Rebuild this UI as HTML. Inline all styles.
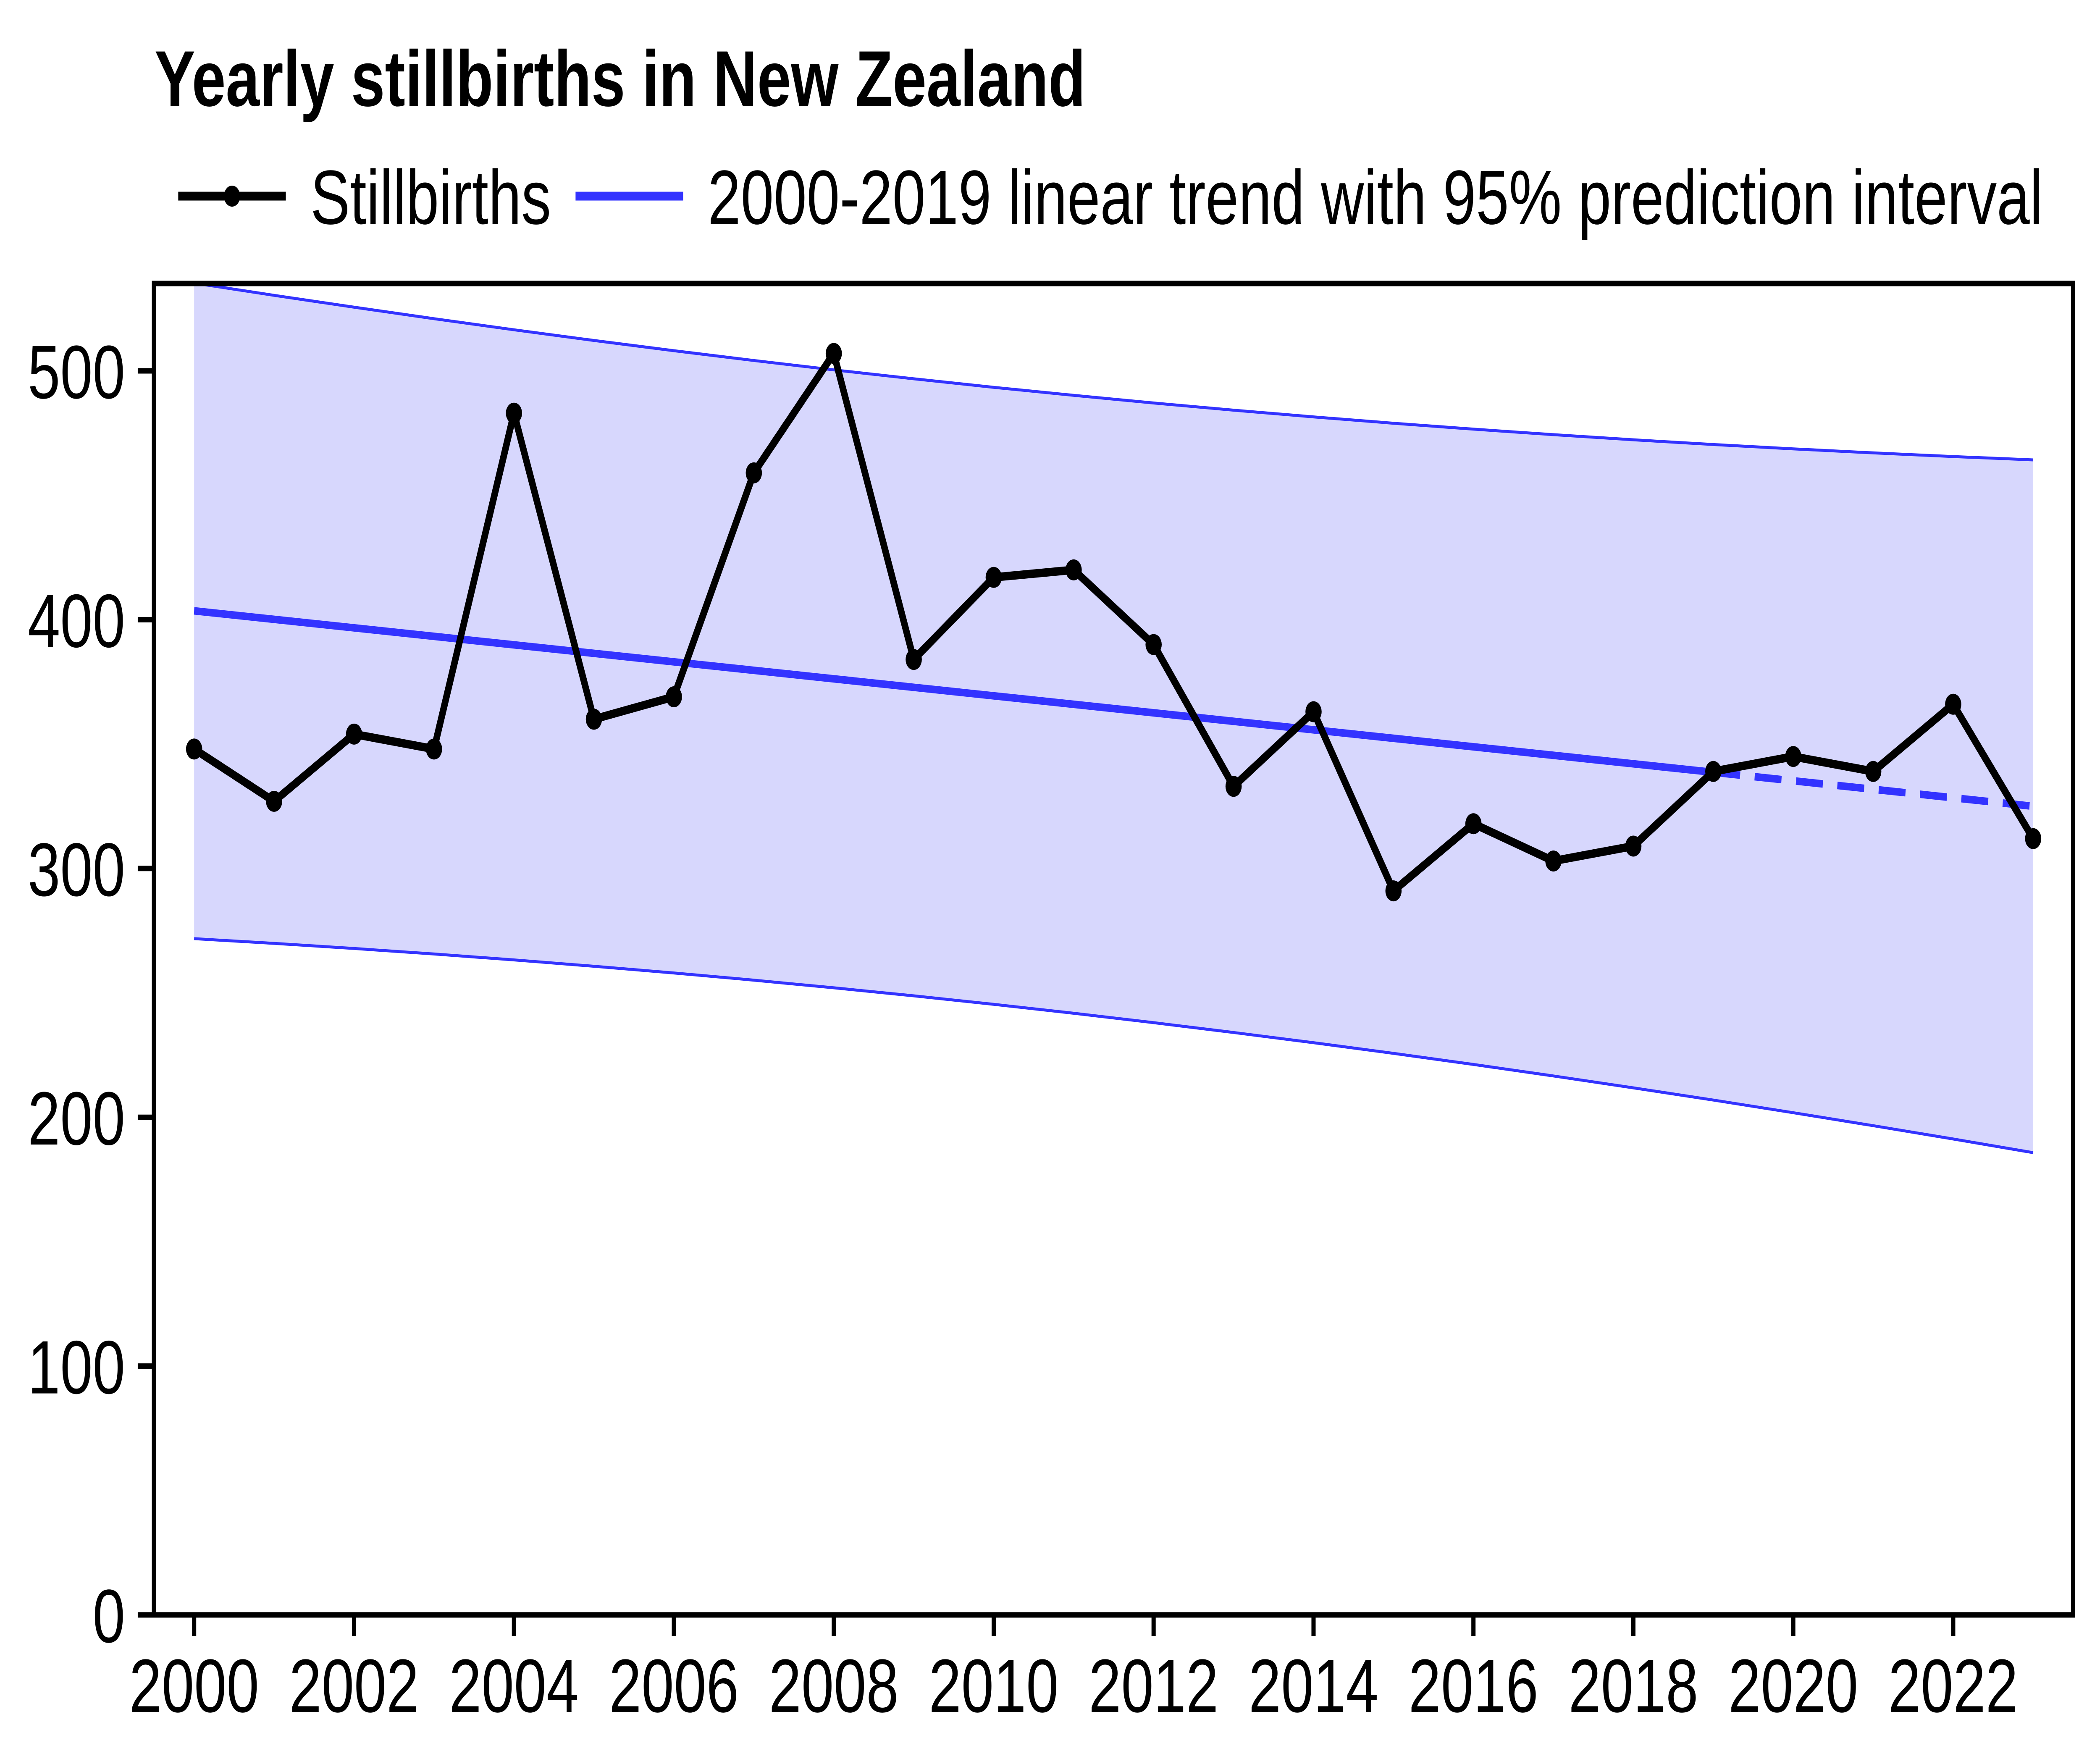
<!DOCTYPE html>
<html>
<head>
<meta charset="utf-8">
<style>
html,body{margin:0;padding:0;background:#fff;width:100%;height:100%;overflow:hidden;}
svg{display:block;width:100vw;height:100vh;}
text{font-family:"Liberation Sans","DejaVu Sans",sans-serif;fill:#000;}
</style>
</head>
<body>
<svg viewBox="0 0 6480 4200" preserveAspectRatio="none" xmlns="http://www.w3.org/2000/svg">
<rect x="0" y="0" width="6480" height="4200" fill="#ffffff"/>

<!-- Title -->
<text x="477" y="252" font-size="188" font-weight="bold">Yearly stillbirths in New Zealand</text>

<!-- Legend -->
<line x1="550" y1="467" x2="882" y2="467" stroke="#000" stroke-width="21"/>
<circle cx="716" cy="467" r="25" fill="#000"/>
<text x="958" y="533" font-size="183">Stillbirths</text>
<line x1="1776" y1="467" x2="2108" y2="467" stroke="#3333FF" stroke-width="21"/>
<text x="2184" y="533" font-size="183">2000-2019 linear trend with 95% prediction interval</text>

<!-- Prediction band fill -->
<polygon fill="#D7D7FD" points="599,674.0 845.7,703.2 1092.5,731.4 1339.2,758.8 1585.9,785.2 1832.6,810.6 2079.4,835.0 2326.1,858.3 2572.8,880.7 2819.5,901.9 3066.3,922.2 3313.0,941.3 3559.7,959.5 3806.5,976.6 4053.2,992.6 4299.9,1007.7 4546.6,1021.8 4793.4,1034.9 5040.1,1047.1 5286.8,1058.4 5533.5,1068.7 5780.3,1078.3 6027.0,1087.0 6273.7,1095.0 6273.7,2744.4 6027.0,2711.9 5780.3,2680.2 5533.5,2649.3 5286.8,2619.2 5040.1,2590.1 4793.4,2561.8 4546.6,2534.4 4299.9,2508.0 4053.2,2482.6 3806.5,2458.3 3559.7,2434.9 3313.0,2412.5 3066.3,2391.3 2819.5,2371.0 2572.8,2351.9 2326.1,2333.7 2079.4,2316.6 1832.6,2300.6 1585.9,2285.5 1339.2,2271.4 1092.5,2258.3 845.7,2246.1 599,2234.9"/>

<!-- Band edges -->
<polyline fill="none" stroke="#3333FF" stroke-width="7" points="599,674.0 845.7,703.2 1092.5,731.4 1339.2,758.8 1585.9,785.2 1832.6,810.6 2079.4,835.0 2326.1,858.3 2572.8,880.7 2819.5,901.9 3066.3,922.2 3313.0,941.3 3559.7,959.5 3806.5,976.6 4053.2,992.6 4299.9,1007.7 4546.6,1021.8 4793.4,1034.9 5040.1,1047.1 5286.8,1058.4 5533.5,1068.7 5780.3,1078.3 6027.0,1087.0 6273.7,1095.0"/>
<polyline fill="none" stroke="#3333FF" stroke-width="7" points="599,2234.9 845.7,2246.1 1092.5,2258.3 1339.2,2271.4 1585.9,2285.5 1832.6,2300.6 2079.4,2316.6 2326.1,2333.7 2572.8,2351.9 2819.5,2371.0 3066.3,2391.3 3313.0,2412.5 3559.7,2434.9 3806.5,2458.3 4053.2,2482.6 4299.9,2508.0 4546.6,2534.4 4793.4,2561.8 5040.1,2590.1 5286.8,2619.2 5533.5,2649.3 5780.3,2680.2 6027.0,2711.9 6273.7,2744.4"/>

<!-- Trend line -->
<line x1="599" y1="1454.4" x2="5286.8" y2="1838.8" stroke="#3333FF" stroke-width="18"/>
<line x1="5286.8" y1="1838.8" x2="6273.7" y2="1919.7" stroke="#3333FF" stroke-width="18" stroke-dasharray="83 45"/>

<!-- Data line -->
<polyline fill="none" stroke="#000" stroke-width="20" stroke-linejoin="round" points="599,1783.4 845.7,1907.9 1092.5,1747.9 1339.2,1783.4 1585.9,983.7 1832.6,1712.4 2079.4,1659.0 2326.1,1125.9 2572.8,841.5 2819.5,1570.2 3066.3,1374.7 3313.0,1356.9 3559.7,1534.6 3806.5,1872.3 4053.2,1694.6 4299.9,2121.1 4546.6,1961.2 4793.4,2050.0 5040.1,2014.5 5286.8,1836.8 5533.5,1801.2 5780.3,1836.8 6027.0,1676.8 6273.7,1996.7"/>
<g fill="#000">
<circle cx="599" cy="1783.4" r="25"/>
<circle cx="845.7" cy="1907.9" r="25"/>
<circle cx="1092.5" cy="1747.9" r="25"/>
<circle cx="1339.2" cy="1783.4" r="25"/>
<circle cx="1585.9" cy="983.7" r="25"/>
<circle cx="1832.6" cy="1712.4" r="25"/>
<circle cx="2079.4" cy="1659.0" r="25"/>
<circle cx="2326.1" cy="1125.9" r="25"/>
<circle cx="2572.8" cy="841.5" r="25"/>
<circle cx="2819.5" cy="1570.2" r="25"/>
<circle cx="3066.3" cy="1374.7" r="25"/>
<circle cx="3313.0" cy="1356.9" r="25"/>
<circle cx="3559.7" cy="1534.6" r="25"/>
<circle cx="3806.5" cy="1872.3" r="25"/>
<circle cx="4053.2" cy="1694.6" r="25"/>
<circle cx="4299.9" cy="2121.1" r="25"/>
<circle cx="4546.6" cy="1961.2" r="25"/>
<circle cx="4793.4" cy="2050.0" r="25"/>
<circle cx="5040.1" cy="2014.5" r="25"/>
<circle cx="5286.8" cy="1836.8" r="25"/>
<circle cx="5533.5" cy="1801.2" r="25"/>
<circle cx="5780.3" cy="1836.8" r="25"/>
<circle cx="6027.0" cy="1676.8" r="25"/>
<circle cx="6273.7" cy="1996.7" r="25"/>
</g>

<!-- Frame -->
<rect x="475" y="675" width="5922" height="3170" fill="none" stroke="#000" stroke-width="13"/>

<!-- Y ticks -->
<g stroke="#000" stroke-width="13">
<line x1="425" y1="3845" x2="475" y2="3845"/>
<line x1="425" y1="3252.6" x2="475" y2="3252.6"/>
<line x1="425" y1="2660.2" x2="475" y2="2660.2"/>
<line x1="425" y1="2067.8" x2="475" y2="2067.8"/>
<line x1="425" y1="1475.4" x2="475" y2="1475.4"/>
<line x1="425" y1="883" x2="475" y2="883"/>
</g>
<g font-size="180" text-anchor="end">
<text x="386" y="3910">0</text>
<text x="386" y="3317.6">100</text>
<text x="386" y="2725.2">200</text>
<text x="386" y="2132.8">300</text>
<text x="386" y="1540.4">400</text>
<text x="386" y="948">500</text>
</g>

<!-- X ticks -->
<g stroke="#000" stroke-width="13">
<line x1="599" y1="3845" x2="599" y2="3895"/>
<line x1="1092.5" y1="3845" x2="1092.5" y2="3895"/>
<line x1="1585.9" y1="3845" x2="1585.9" y2="3895"/>
<line x1="2079.4" y1="3845" x2="2079.4" y2="3895"/>
<line x1="2572.8" y1="3845" x2="2572.8" y2="3895"/>
<line x1="3066.3" y1="3845" x2="3066.3" y2="3895"/>
<line x1="3559.7" y1="3845" x2="3559.7" y2="3895"/>
<line x1="4053.2" y1="3845" x2="4053.2" y2="3895"/>
<line x1="4546.6" y1="3845" x2="4546.6" y2="3895"/>
<line x1="5040.1" y1="3845" x2="5040.1" y2="3895"/>
<line x1="5533.5" y1="3845" x2="5533.5" y2="3895"/>
<line x1="6027.0" y1="3845" x2="6027.0" y2="3895"/>
</g>
<g font-size="180" text-anchor="middle">
<text x="599" y="4076">2000</text>
<text x="1092.5" y="4076">2002</text>
<text x="1585.9" y="4076">2004</text>
<text x="2079.4" y="4076">2006</text>
<text x="2572.8" y="4076">2008</text>
<text x="3066.3" y="4076">2010</text>
<text x="3559.7" y="4076">2012</text>
<text x="4053.2" y="4076">2014</text>
<text x="4546.6" y="4076">2016</text>
<text x="5040.1" y="4076">2018</text>
<text x="5533.5" y="4076">2020</text>
<text x="6027.0" y="4076">2022</text>
</g>
</svg>
</body>
</html>
